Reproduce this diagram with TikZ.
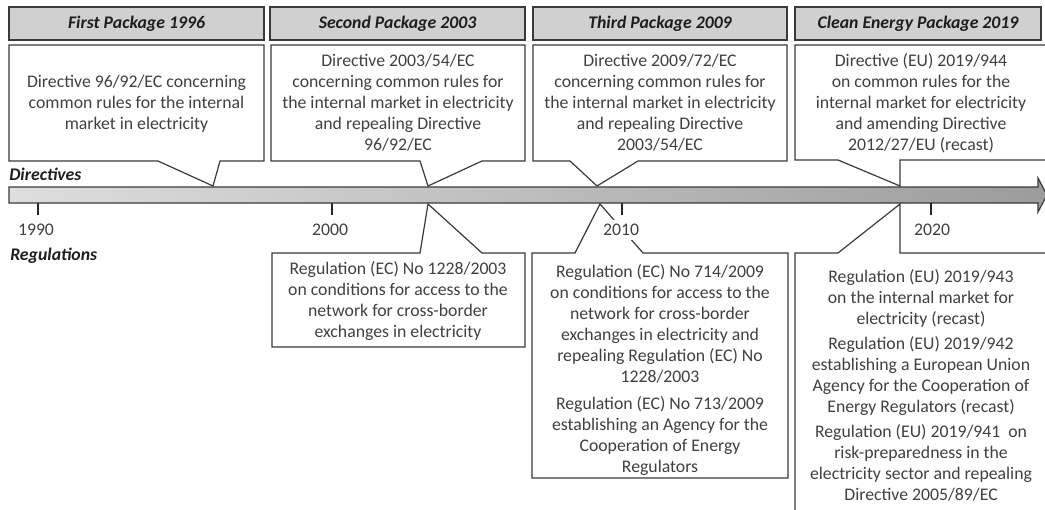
\documentclass[tikz,border=0pt]{standalone}
\usepackage{fontspec}
\setmainfont{Carlito}
\definecolor{edge}{HTML}{3A3A3A}
\definecolor{headfill}{HTML}{D0D0D0}
\definecolor{headink}{HTML}{1E1E1E}
\definecolor{bodyink}{HTML}{404040}
\definecolor{barL}{HTML}{DEDEDE}
\definecolor{barR}{HTML}{9C9C9C}
\begin{document}
\begin{tikzpicture}[x=0.75pt,y=-0.75pt,
  font=\fontsize{13.3}{15.75}\selectfont,
  frame/.style={draw=edge,line width=0.9pt,line join=miter},
  head/.style={frame,fill=headfill},
  callout/.style={frame,fill=white},
  headtxt/.style={text=headink,inner sep=0pt,font=\fontsize{13.3}{15.75}\selectfont\bfseries\itshape},
  body/.style={text=bodyink,align=center,inner sep=0pt},
  yeartick/.style={draw=black!85,line width=1.6pt},
  year/.style={text=bodyink,fill=white,inner sep=3pt},
  sidelabel/.style={headtxt,anchor=west}]
\useasboundingbox (0,0) rectangle (1045,510);

% timeline arrow
\path[draw=edge,line width=0.9pt,left color=barL,right color=barR]
  (9,187) -- (1038,187) -- (1038,178) -- (1047,195) -- (1038,212) -- (1038,203) -- (9,203) -- cycle;
\foreach \x in {38,332,622,931} \draw[yeartick] (\x,203) -- (\x,215);

% package headers
\draw[head] (9,7) rectangle (264,40);
\draw[head] (270,7) rectangle (525,40);
\draw[head] (533,7) rectangle (787,40);
\draw[head] (795,7) rectangle (1041,40);
\node[headtxt] (h1) at (136.5,23.5) {First Package 1996};
\node[headtxt] (h2) at (397.5,23.5) {Second Package 2003};
\node[headtxt] (h3) at (660,23.5) {Third Package 2009};
\node[headtxt] (h4) at (918,23.5) {Clean Energy Package 2019};

% directive callouts above the timeline
\draw[callout] (9,45) -- (264,45) -- (264,161) -- (220,161) -- (213,186) -- (158,161) -- (9,161) -- cycle;
\draw[callout] (271,45) -- (525,45) -- (525,161) -- (482,161) -- (428,186) -- (420,161) -- (271,161) -- cycle;
\draw[callout] (533,45) -- (787,45) -- (787,161) -- (638,161) -- (597,186) -- (570,161) -- (533,161) -- cycle;
\draw[callout] (795,45) -- (1050,45) -- (1050,160) -- (900,160) -- (900,186) -- (838,160) -- (795,160) -- cycle;

% regulation callouts below the timeline
\draw[callout] (272,253) -- (420,253) -- (428,204) -- (482,253) -- (525,253) -- (525,347) -- (272,347) -- cycle;
\draw[callout] (532,253) -- (575,253) -- (600,204) -- (643,253) -- (788,253) -- (788,478) -- (532,478) -- cycle;
\draw[callout] (795,253) -- (838,253) -- (900,204) -- (900,253) -- (1050,253) -- (1050,520) -- (795,520) -- cycle;

% directive texts
\node[body] (d1) at (136.5,104) {Directive 96/92/EC concerning\\common rules for the internal\\market in electricity};
\node[body] (d2) at (398,103) {Directive 2003/54/EC\\concerning common rules for\\the internal market in electricity\\and repealing Directive\\96/92/EC};
\node[body] (d3) at (660,103) {Directive 2009/72/EC\\concerning common rules for\\the internal market in electricity\\and repealing Directive\\2003/54/EC};
\node[body] (d4) at (921,103) {Directive (EU) 2019/944\\on common rules for the\\internal market for electricity\\and amending Directive\\2012/27/EU (recast)};

% regulation texts
\node[body] (r2) at (398,301) {Regulation (EC) No 1228/2003\\on conditions for access to the\\network for cross-border\\exchanges in electricity};
\node[body] (r3) at (660,370) {Regulation (EC) No 714/2009\\on conditions for access to the\\network for cross-border\\exchanges in electricity and\\repealing Regulation (EC) No\\1228/2003\\[4.5pt]Regulation (EC) No 713/2009\\establishing an Agency for the\\Cooperation of Energy\\Regulators};
\node[body] (r4) at (921,385) {Regulation (EU) 2019/943\\on the internal market for\\electricity (recast)\\[3pt]Regulation (EU) 2019/942\\establishing a European Union\\Agency for the Cooperation of\\Energy Regulators (recast)\\[3pt]Regulation (EU) 2019/941~~on\\risk-preparedness in the\\electricity sector and repealing\\Directive 2005/89/EC};

% axis labels
\node[year] (y1990) at (36,230) {1990};
\node[year] (y2000) at (330,230) {2000};
\node[year] (y2010) at (621,230) {2010};
\node[year] (y2020) at (932,230) {2020};
\node[sidelabel] (dirs) at (9,174) {Directives};
\node[sidelabel] (regs) at (10,256) {Regulations};
\end{tikzpicture}
\end{document}
